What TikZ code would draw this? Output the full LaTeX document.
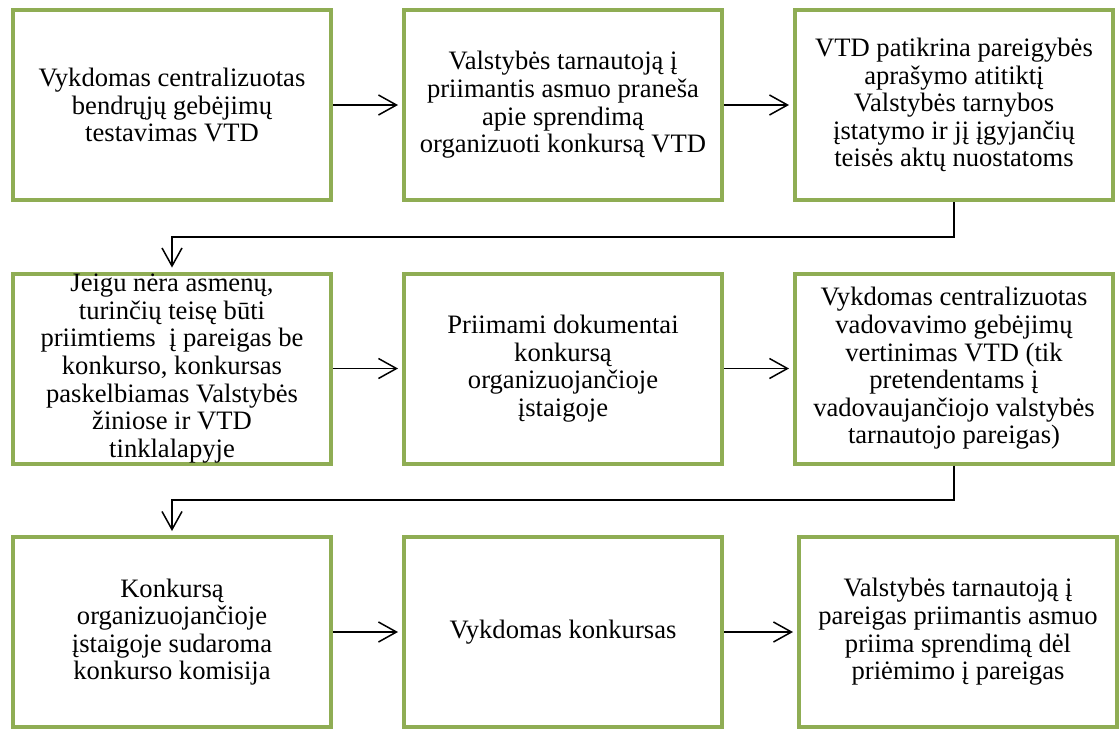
\documentclass[tikz,border=0pt]{standalone}
\usepackage{fontspec}
\setmainfont{Liberation Serif}
\usetikzlibrary{arrows.meta}
\definecolor{boxgreen}{RGB}{143,173,84}
\tikzset{
  x=0.5pt, y=-0.5pt,
  stepbox/.style={draw=boxgreen, line width=2pt, fill=white, rectangle,
    minimum width=159pt, minimum height=95pt, inner sep=0pt, align=center,
    font=\fontsize{13.3pt}{13.8pt}\selectfont},
  conn/.style={draw=black, line width=0.75pt,
    -{Straight Barb[length=9pt,width=10pt,line width=0.75pt]}, shorten >=2pt}
}
\begin{document}
\begin{tikzpicture}
\useasboundingbox (0,0) rectangle (1119,729);
\node[stepbox] (b1) at (172,105) {Vykdomas centralizuotas\\bendrųjų gebėjimų\\testavimas VTD};
\node[stepbox] (b2) at (563,105) {Valstybės tarnautoją į\\priimantis asmuo praneša\\apie sprendimą\\organizuoti konkursą VTD};
\node[stepbox] (b3) at (954,105) {VTD patikrina pareigybės\\aprašymo atitiktį\\Valstybės tarnybos\\įstatymo ir jį įgyjančių\\teisės aktų nuostatoms};
\node[stepbox] (b4) at (172,368.5) {Jeigu nėra asmenų,\\turinčių teisę būti\\priimtiems\ \ į pareigas be\\konkurso, konkursas\\paskelbiamas Valstybės\\žiniose ir VTD\\tinklalapyje};
\node[stepbox] (b5) at (563,368.5) {Priimami dokumentai\\konkursą\\organizuojančioje\\įstaigoje};
\node[stepbox] (b6) at (954,368.5) {Vykdomas centralizuotas\\vadovavimo gebėjimų\\vertinimas VTD (tik\\pretendentams į\\vadovaujančiojo valstybės\\tarnautojo pareigas)};
\node[stepbox] (b7) at (172,632) {Konkursą\\organizuojančioje\\įstaigoje sudaroma\\konkurso komisija};
\node[stepbox] (b8) at (563,632) {Vykdomas konkursas};
\node[stepbox] (b9) at (958,632) {Valstybės tarnautoją į\\pareigas priimantis asmuo\\priima sprendimą dėl\\priėmimo į pareigas};
\coordinate (t1) at (954,237);
\coordinate (t2) at (954,500);
\draw[conn] (b1.east) -- (b2.west);
\draw[conn] (b2.east) -- (b3.west);
\draw[conn] (b3.south) -- (t1) -| (b4.north);
\draw[conn] (b4.east) -- (b5.west);
\draw[conn] (b5.east) -- (b6.west);
\draw[conn] (b6.south) -- (t2) -| (b7.north);
\draw[conn] (b7.east) -- (b8.west);
\draw[conn] (b8.east) -- (b9.west);
\end{tikzpicture}
\end{document}
